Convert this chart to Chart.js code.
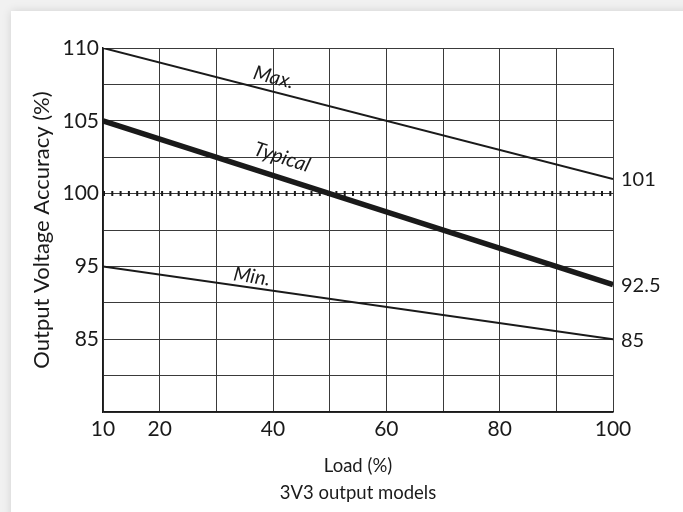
<!DOCTYPE html>
<html>
<head>
<meta charset="utf-8">
<title>Output Voltage Accuracy vs Load</title>
<script src="https://cdn.jsdelivr.net/npm/chart.js@4.4.1/dist/chart.umd.min.js"></script>
<style>
  html, body { margin: 0; padding: 0; background: #f1f1f1; overflow: hidden; }
  .card {
    position: absolute; left: 11px; top: 11px; width: 720px; height: 540px;
    background: #fff; box-shadow: 0 0 9px rgba(0, 0, 0, 0.13);
  }
  #chart { position: absolute; left: 0; top: 0; }
</style>
</head>
<body>
<div class="card"></div>
<canvas id="chart" width="683" height="512"></canvas>
<script>
  // Values.
  const loadValues = [10, 100];
  const maxValues = [110, 101];
  const typicalValues = [105, 92.5];
  const minValues = [95, 85];
  const nominalValues = [100, 100];

  // Tick labels as printed on the axes.
  const xTickLabels = [10, 20, 40, 60, 80, 100];
  const yTickLabels = [110, 105, 100, 95, 85];

  // The y axis is broken: 2.5 % per grid line down to 95, then 5 % per grid line.
  function toAxis(v) {
    return v >= 95 ? (110 - v) / 2.5 : 6 + (95 - v) / 5;
  }

  function series(values) {
    return loadValues.map((x, i) => ({ x: x, y: toAxis(values[i]) }));
  }

  const ink = '#1a1a1a';

  // In-plot italic labels sitting on each curve.
  const curveLabels = [
    { dataset: 0, text: 'Max.', at: 39.5, lift: 14 },
    { dataset: 1, text: 'Typical', at: 40.5, lift: 20 },
    { dataset: 2, text: 'Min.', at: 36, lift: 11 }
  ];

  const labelPlugin = {
    id: 'curveLabels',
    afterDatasetsDraw(chart) {
      const ctx = chart.ctx;
      const xs = chart.scales.x;
      ctx.save();
      ctx.fillStyle = ink;

      // Italic names along the lines.
      ctx.font = 'italic 20px Lato';
      ctx.textAlign = 'center';
      ctx.textBaseline = 'middle';
      curveLabels.forEach((lab) => {
        const pts = chart.getDatasetMeta(lab.dataset).data;
        const a = pts[0], b = pts[pts.length - 1];
        const angle = Math.atan2(b.y - a.y, b.x - a.x);
        const px = xs.getPixelForValue(lab.at);
        const py = a.y + (b.y - a.y) * (px - a.x) / (b.x - a.x);
        ctx.save();
        ctx.translate(px + Math.sin(angle) * lab.lift, py - Math.cos(angle) * lab.lift);
        ctx.rotate(angle);
        ctx.fillText(lab.text, 0, 0);
        ctx.restore();
      });

      // End values at the right edge.
      ctx.font = '20px Lato';
      ctx.textAlign = 'left';
      [maxValues, typicalValues, minValues].forEach((vals, i) => {
        const pts = chart.getDatasetMeta(i).data;
        const end = pts[pts.length - 1];
        ctx.fillText(String(vals[vals.length - 1]), end.x + 8, end.y + 1);
      });
      ctx.restore();
    }
  };

  new Chart(document.getElementById('chart'), {
    type: 'line',
    data: {
      datasets: [
        { label: 'Max.', data: series(maxValues), borderColor: ink, borderWidth: 2 },
        { label: 'Typical', data: series(typicalValues), borderColor: ink, borderWidth: 5.5 },
        { label: 'Min.', data: series(minValues), borderColor: ink, borderWidth: 2 },
        {
          label: 'Nominal', data: series(nominalValues), borderColor: ink,
          borderWidth: 5, borderDash: [2, 6.3], borderCapStyle: 'butt'
        }
      ]
    },
    options: {
      responsive: false,
      animation: false,
      events: [],
      elements: { point: { radius: 0 }, line: { tension: 0, borderCapStyle: 'butt' } },
      layout: { padding: { top: 48, right: 70, bottom: 0, left: 0 } },
      plugins: { legend: { display: false }, tooltip: { enabled: false } },
      scales: {
        x: {
          type: 'linear',
          min: 10,
          max: 100,
          afterFit: function (scale) { scale.height = 100; },
          ticks: {
            stepSize: 10,
            padding: 5,
            color: ink,
            font: { family: 'Lato', size: 21 },
            callback: function (value) {
              return xTickLabels.includes(value) ? String(value) : '';
            }
          },
          grid: { color: '#3a3a3a', lineWidth: 1, drawTicks: false },
          border: { color: ink, width: 1.5 },
          title: {
            display: true,
            text: ['Load (%)', '3V3 output models'],
            color: ink,
            font: { family: 'Lato', size: 18.5, lineHeight: 1.47 },
            padding: { top: 0, bottom: 5 }
          }
        },
        y: {
          type: 'linear',
          reverse: true,
          min: 0,
          max: 10,
          afterFit: function (scale) { scale.width = 103; },
          ticks: {
            stepSize: 1,
            padding: 4,
            color: ink,
            font: { family: 'Lato', size: 21 },
            callback: function (value) {
              const hit = yTickLabels.find((v) => Math.abs(toAxis(v) - value) < 1e-6);
              return hit === undefined ? '' : String(hit);
            }
          },
          grid: { color: '#3a3a3a', lineWidth: 1, drawTicks: false },
          border: { color: ink, width: 1.5 },
          title: {
            display: true,
            text: 'Output Voltage Accuracy (%)',
            color: ink,
            font: { family: 'Lato', size: 22 },
            padding: { top: 29, bottom: 0 }
          }
        }
      }
    },
    plugins: [labelPlugin]
  });
</script>
</body>
</html>
